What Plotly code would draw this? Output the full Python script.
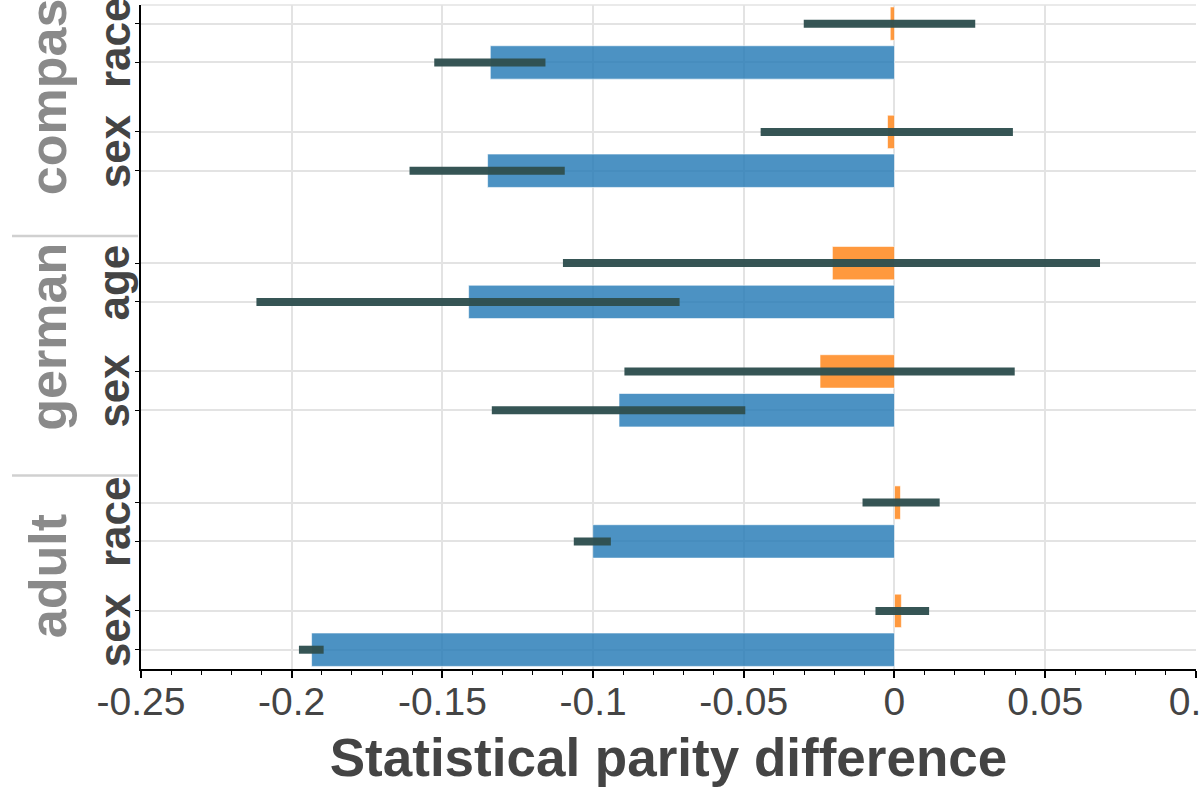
import plotly.graph_objects as go

# ---------------- data ----------------
groups = ["adult", "adult", "german", "german", "compas", "compas"]
attributes = ["sex", "race", "sex", "age", "sex", "race"]
before_values = [-0.1934, -0.1001, -0.0914, -0.1413, -0.1350, -0.1341]
before_ci_low = [-0.1976, -0.1064, -0.1336, -0.2117, -0.1609, -0.1527]
before_ci_high = [-0.1894, -0.0941, -0.0495, -0.0713, -0.1094, -0.1158]
after_values = [0.0023, 0.0020, -0.0247, -0.0206, -0.0023, -0.0014]
after_ci_low = [-0.0063, -0.0106, -0.0896, -0.1100, -0.0444, -0.0301]
after_ci_high = [0.0115, 0.0150, 0.0399, 0.0682, 0.0393, 0.0268]
x_tick_values = [-0.25, -0.2, -0.15, -0.1, -0.05, 0, 0.05, 0.1]
x_tick_labels = ["-0.25", "-0.2", "-0.15", "-0.1", "-0.05", "0", "0.05", "0.1"]
x_title = "Statistical parity difference"

# ---------------- layout positions ----------------
PAIR_STEP = 2.79
GROUP_STEP = 6.17
group_order = ["adult", "german", "compas"]
idx_in_group = []
seen = {}
for g in groups:
    idx_in_group.append(seen.get(g, 0))
    seen[g] = seen.get(g, 0) + 1
pos_before = [group_order.index(g) * GROUP_STEP + i * PAIR_STEP for g, i in zip(groups, idx_in_group)]
pos_after = [p + 1 for p in pos_before]

BLUE = "rgba(31,119,180,0.8)"
ORANGE = "rgba(255,127,14,0.8)"
CI_COLOR = "rgba(47,79,79,0.97)"
BAR_W = 0.86

fig = go.Figure()
fig.add_trace(go.Bar(
    x=before_values, y=pos_before, orientation="h", width=BAR_W,
    marker=dict(color=BLUE, line=dict(color="rgba(255,255,255,0.6)", width=1)),
    name="before",
))
fig.add_trace(go.Bar(
    x=after_values, y=pos_after, orientation="h", width=BAR_W,
    marker=dict(color=ORANGE, line=dict(color="rgba(255,255,255,0.6)", width=1)),
    name="after",
))

ci_x, ci_y = [], []
for lo, hi, p in zip(before_ci_low, before_ci_high, pos_before):
    ci_x += [lo, hi, None]
    ci_y += [p, p, None]
for lo, hi, p in zip(after_ci_low, after_ci_high, pos_after):
    ci_x += [lo, hi, None]
    ci_y += [p, p, None]
fig.add_trace(go.Scatter(
    x=ci_x, y=ci_y, mode="lines", line=dict(color=CI_COLOR, width=8),
    hoverinfo="skip", name="CI",
))

# labels
annotations = []
PLOT_L, PLOT_W = 141, 1055
def px_to_paper(px):
    return (px - PLOT_L) / PLOT_W

for k in range(len(groups)):
    mid = (pos_before[k] + pos_after[k]) / 2
    annotations.append(dict(
        x=px_to_paper(114), xref="paper", y=mid, yref="y",
        text=attributes[k], textangle=-90, showarrow=False,
        xanchor="center", yanchor="middle",
        font=dict(family="Liberation Sans, Arial, sans-serif", size=44, color="#444444", weight="bold"),
    ))

shapes = []
for gi, g in enumerate(group_order):
    members = [k for k in range(len(groups)) if groups[k] == g]
    lo = min(pos_before[k] for k in members)
    hi = max(pos_after[k] for k in members)
    annotations.append(dict(
        x=px_to_paper(48), xref="paper", y=(lo + hi) / 2, yref="y",
        text=g, textangle=-90, showarrow=False,
        xanchor="center", yanchor="middle",
        font=dict(family="Liberation Sans, Arial, sans-serif", size=52, color="#8a8a8a", weight="bold"),
    ))
    if gi < len(group_order) - 1:
        shapes.append(dict(
            type="line", xref="paper", yref="y",
            x0=px_to_paper(12), x1=px_to_paper(138), y0=hi + 0.7, y1=hi + 0.7,
            line=dict(color="#d0d0d0", width=2.5),
        ))

shapes.append(dict(type="line", xref="paper", yref="paper", x0=0, x1=1, y0=1, y1=1,
                   line=dict(color="#e3e3e3", width=1.5)))

fig.update_layout(
    width=1200, height=800,
    margin=dict(l=141, r=4, t=5, b=131),
    plot_bgcolor="white", paper_bgcolor="white",
    showlegend=False, barmode="overlay",
    annotations=annotations, shapes=shapes,
    font=dict(family="Liberation Sans, Arial, sans-serif", color="#444444"),
)
fig.update_xaxes(
    range=[-0.25, 0.10005], tickvals=x_tick_values, ticktext=x_tick_labels,
    tickfont=dict(size=39, color="#444444"),
    ticks="outside", ticklen=7, tickwidth=1.5, tickcolor="black",
    ticklabelstandoff=-10, ticklabeloverflow="allow",
    minor=dict(ticks="outside", dtick=0.01, ticklen=4, tickcolor="black", tickwidth=1, showgrid=False),
    showline=True, linecolor="black", linewidth=2,
    showgrid=True, gridcolor="#e3e3e3", gridwidth=1.5,
    zeroline=False,
    title=dict(text=x_title, font=dict(size=53, color="#444444", weight="bold"), standoff=17),
    automargin=False,
)
fig.update_yaxes(
    range=[-0.497, 16.61],
    tickvals=pos_before + pos_after, ticktext=[""] * (2 * len(pos_before)),
    ticks="outside", ticklen=4, tickcolor="black",
    showline=True, linecolor="black", linewidth=2,
    showgrid=True, gridcolor="#e3e3e3", gridwidth=1.5,
    zeroline=False, automargin=False,
)

fig.write_html(
    "out.html",
    config={"displayModeBar": False},
    post_script="document.body.style.margin='0';document.body.style.overflow='hidden';",
)
